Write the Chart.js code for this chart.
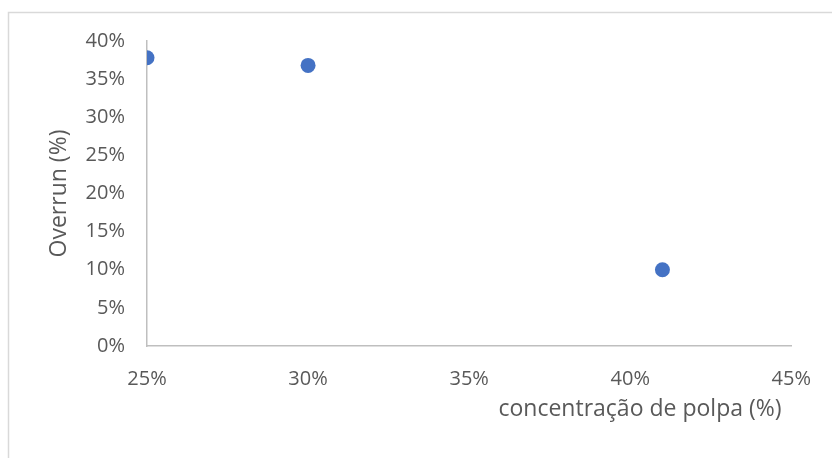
<!DOCTYPE html>
<html>
<head>
<meta charset="utf-8">
<script src="https://cdn.jsdelivr.net/npm/chart.js@4/dist/chart.umd.min.js"></script>
<style>
  html, body { margin: 0; padding: 0; background: #ffffff; }
  #wrap { width: 832px; height: 458px; position: relative; }
</style>
</head>
<body>
<div id="wrap"><canvas id="c" width="832" height="458"></canvas></div>
<script>
// Pulp concentration (%) and measured overrun (%)
const concentracao = [25, 30, 41];
const overrun = [37.8, 36.8, 10.0];
const xTicks = [25, 30, 35, 40, 45];
const yTicks = [0, 5, 10, 15, 20, 25, 30, 35, 40];
const xTitle = 'concentração de polpa (%)';
const yTitle = 'Overrun (%)';

const points = concentracao.map((x, i) => ({ x: x, y: overrun[i] }));

const FONT = '"Open Sans", "DejaVu Sans", sans-serif';
const TEXT = '#595959';
const AXIS = '#BFBFBF';

// Outer frame and axis titles
const decor = {
  id: 'decor',
  beforeDraw(chart) {
    const ctx = chart.ctx;
    ctx.save();
    ctx.strokeStyle = '#D9D9D9';
    ctx.lineWidth = 1.5;
    ctx.strokeRect(8.5, 12.5, 840, 460);
    ctx.restore();
  },
  afterDraw(chart) {
    const ctx = chart.ctx;
    const a = chart.chartArea;
    ctx.save();
    ctx.fillStyle = TEXT;
    ctx.font = '23px ' + FONT;
    ctx.textAlign = 'center';
    ctx.textBaseline = 'middle';
    ctx.fillText(xTitle, 640, 409);
    ctx.translate(59, (a.top + a.bottom) / 2);
    ctx.rotate(-Math.PI / 2);
    ctx.fillText(yTitle, 0, 0);
    ctx.restore();
  }
};

new Chart(document.getElementById('c'), {
  type: 'scatter',
  data: {
    datasets: [{
      data: points,
      backgroundColor: '#4472C4',
      borderColor: '#4472C4',
      pointRadius: 7.5,
      pointHoverRadius: 7.5,
      borderWidth: 0
    }]
  },
  options: {
    responsive: false,
    animation: false,
    events: [],
    layout: { padding: { left: 0, top: 41, right: 36, bottom: 0 } },
    plugins: { legend: { display: false }, tooltip: { enabled: false } },
    scales: {
      x: {
        type: 'linear',
        min: 25, max: 45,
        afterBuildTicks(scale) { scale.ticks = xTicks.map(v => ({ value: v })); },
        afterFit(scale) { scale.height = 458 - 346; },
        grid: { display: false, drawTicks: false },
        border: { display: true, color: AXIS, width: 1.5 },
        ticks: {
          padding: 21,
          color: TEXT,
          font: { family: FONT, size: 20 },
          maxRotation: 0,
          callback: v => v + '%'
        }
      },
      y: {
        type: 'linear',
        min: 0, max: 40,
        afterBuildTicks(scale) { scale.ticks = yTicks.map(v => ({ value: v })); },
        afterFit(scale) { scale.width = 147; },
        grid: { display: false, drawTicks: false },
        border: { display: true, color: AXIS, width: 1.5 },
        ticks: {
          padding: 22,
          color: TEXT,
          font: { family: FONT, size: 20 },
          callback: v => v + '%'
        }
      }
    }
  },
  plugins: [decor]
});
</script>
</body>
</html>
